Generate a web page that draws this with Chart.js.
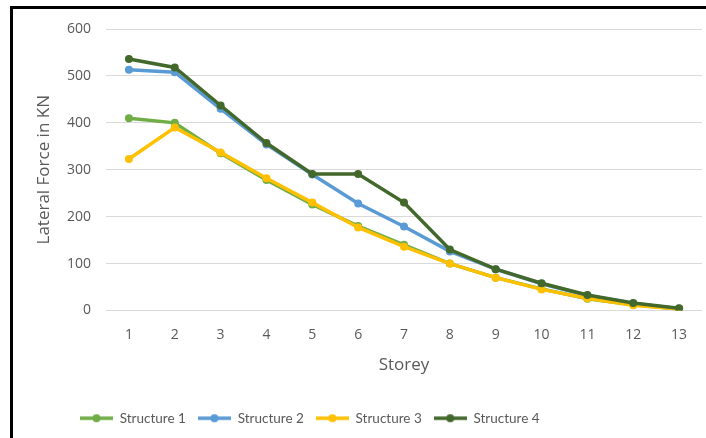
<!DOCTYPE html>
<html>
<head>
<meta charset="utf-8">
<script src="https://cdn.jsdelivr.net/npm/chart.js@4"></script>
<style>
  body { margin: 0; background: #fff; }
  #wrap { position: relative; width: 706px; height: 438px; }
  #frame { position: absolute; left: 10px; top: 6px; right: 0; bottom: 0;
           border-top: 3px solid #000; border-left: 3px solid #000; pointer-events: none; }
</style>
</head>
<body>
<div id="wrap">
  <canvas id="forceChart" width="706" height="438"></canvas>
  <div id="frame"></div>
</div>
<script>
// Lateral force per storey
const storeys = ['1', '2', '3', '4', '5', '6', '7', '8', '9', '10', '11', '12', '13'];
const structure1 = [410, 400, 335, 278, 226, 180, 140, 100, 70, 46, 25, 12, 3];
const structure2 = [513, 508, 430, 354, 290, 228, 179, 126, 88, 57, 32, 15, 4];
const structure3 = [323, 390, 337, 282, 230, 177, 136, 100, 70, 45, 26, 11, 3];
const structure4 = [536, 518, 437, 357, 291, 291, 230, 130, 88, 58, 33, 16, 5];
const seriesNames = ['Structure 1', 'Structure 2', 'Structure 3', 'Structure 4'];
const seriesColors = ['#70AD47', '#5B9BD5', '#FFC000', '#43682B'];

// legend marker: short line with a dot in the middle
function lineMarker(color) {
    const c = document.createElement('canvas');
    c.width = 33; c.height = 10;
    const g = c.getContext('2d');
    g.strokeStyle = color; g.lineWidth = 3.5;
    g.beginPath(); g.moveTo(0, 5); g.lineTo(33, 5); g.stroke();
    g.fillStyle = color;
    g.beginPath(); g.arc(16.5, 5, 4, 0, Math.PI * 2); g.fill();
    return c;
}

const allSeries = [structure1, structure2, structure3, structure4];
const datasets = allSeries.map((values, i) => ({
    label: seriesNames[i],
    data: values,
    borderColor: seriesColors[i],
    backgroundColor: seriesColors[i],
    borderWidth: 3.5,
    pointRadius: 4,
    pointHoverRadius: 4,
    pointBorderWidth: 0,
    tension: 0,
    fill: false,
    order: 4 - i   // later structures drawn on top
}));

const tickFont = { family: 'Open Sans', size: 14 };
const titleFont = { family: 'Open Sans', size: 17 };
const legendShift = {
    id: 'legendShift',
    afterLayout(chart) { chart.legend.left = 68; }
};

const ctx = document.getElementById('forceChart').getContext('2d');
new Chart(ctx, {
    type: 'line',
    data: { labels: storeys, datasets: datasets },
    plugins: [legendShift],
    options: {
        responsive: false,
        animation: false,
        layout: { padding: { left: 13, top: 29, right: 2, bottom: 3 } },
        scales: {
            x: {
                offset: true,
                grid: { display: false, drawTicks: false },
                border: { display: false },
                ticks: { color: '#595959', font: tickFont, padding: 16 },
                title: { display: true, text: 'Storey', color: '#595959',
                         font: titleFont, padding: { top: 0, bottom: 24 } },
                afterFit(scale) { scale.height = 89; }
            },
            y: {
                min: 0, max: 600,
                ticks: { stepSize: 100, color: '#595959', font: tickFont, padding: 15 },
                grid: { color: '#D9D9D9', lineWidth: 1, drawTicks: false },
                border: { display: false },
                title: { display: true, text: 'Lateral Force in KN', color: '#595959',
                         font: titleFont, padding: { top: 21, bottom: 0 } },
                afterFit(scale) { scale.width = 93; }
            }
        },
        plugins: {
            legend: {
                position: 'bottom',
                align: 'start',
                labels: {
                    usePointStyle: true,
                    pointStyleWidth: 33,
                    padding: 12,
                    color: '#595959',
                    font: { family: 'Lato', size: 13.5 },
                    generateLabels(chart) {
                        return chart.data.datasets.map((ds, i) => ({
                            text: ds.label,
                            fillStyle: ds.borderColor,
                            strokeStyle: ds.borderColor,
                            fontColor: '#595959',
                            lineWidth: 0,
                            pointStyle: lineMarker(ds.borderColor),
                            hidden: !chart.isDatasetVisible(i),
                            datasetIndex: i
                        }));
                    }
                }
            },
            tooltip: { enabled: false }
        }
    }
});
</script>
</body>
</html>
